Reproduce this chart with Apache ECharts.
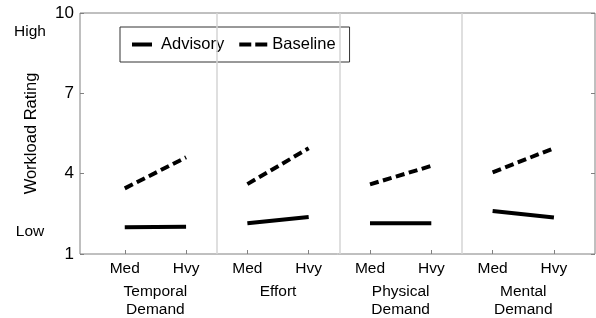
<!DOCTYPE html>
<html>
<head>
<meta charset="utf-8">
<script src="https://cdn.jsdelivr.net/npm/echarts@6/dist/echarts.min.js"></script>
<style>
  html, body { margin: 0; padding: 0; background: #fff; }
  #chart { width: 596px; height: 318px; }
</style>
</head>
<body>
<div id="chart"></div>
<script>
// data
const levels = ['Med', 'Hvy'];
const categories = ['Temporal\nDemand', 'Effort', 'Physical\nDemand', 'Mental\nDemand'];
const advisory = [2.0, 2.02, 2.15, 2.38, 2.15, 2.15, 2.61, 2.36];
const baseline = [3.45, 4.61, 3.61, 4.95, 3.6, 4.29, 4.05, 4.95];
const yTicks = [1, 4, 7, 10];
const yWords = [[1.82, 'Low'], [9.3, 'High']];

const font = 'Liberation Sans, Arial, sans-serif';

// one segment per category, broken between panels
function segments(vals) {
  const out = [];
  categories.forEach(function (c, i) {
    out.push([2 * i + 1, vals[2 * i]]);
    out.push([2 * i + 2, vals[2 * i + 1]]);
    out.push([2 * i + 2.5, '-']);
  });
  return out;
}

const chart = echarts.init(document.getElementById('chart'));

chart.setOption({
  animation: false,
  textStyle: { fontFamily: font, color: '#000' },
  grid: {
    left: 80, right: 1, top: 13, bottom: 64,
    show: true, borderColor: '#808080', borderWidth: 1
  },
  legend: {
    left: 120, top: 27,
    padding: [9, 14, 9, 12],
    itemGap: 15,
    itemWidth: 28,
    itemHeight: 4,
    symbolKeepAspect: true,
    borderColor: '#333',
    borderWidth: 1,
    backgroundColor: '#fff',
    textStyle: { fontSize: 16.5, color: '#000', fontFamily: font },
    data: [
      { name: 'Advisory', icon: 'path://M0,0h20v4h-20z' },
      { name: 'Baseline', icon: 'path://M0,0h12v4h-12zM16,0h12v4h-12z' }
    ]
  },
  xAxis: [
    {
      type: 'value', min: 0.27, max: 8.67,
      splitLine: { show: false },
      axisLine: { show: false },
      axisTick: { show: true, inside: true, length: 4, customValues: [1, 2, 3, 4, 5, 6, 7, 8], lineStyle: { color: '#808080' } },
      axisLabel: {
        customValues: [1, 2, 3, 4, 5, 6, 7, 8],
        margin: 7, fontSize: 15.5, color: '#000',
        formatter: function (v) { return levels[(Math.round(v) - 1) % 2]; }
      }
    },
    {
      type: 'value', min: 0.27, max: 8.67, position: 'bottom',
      splitLine: { show: false },
      axisLine: { show: false },
      axisTick: { show: false },
      axisLabel: {
        customValues: [1.5, 3.5, 5.5, 7.5],
        margin: 29, fontSize: 15.5, lineHeight: 17.5, color: '#000',
        formatter: function (v) { return categories[Math.round((v - 1.5) / 2)]; }
      }
    }
  ],
  yAxis: [
    {
      type: 'value', min: 1, max: 10,
      name: 'Workload Rating', nameLocation: 'middle', nameGap: 40,
      nameTextStyle: { fontSize: 16.5, color: '#000' },
      splitLine: { show: false },
      axisLine: { show: false },
      axisTick: { show: true, inside: true, length: 4, customValues: yTicks, lineStyle: { color: '#808080' } },
      axisLabel: { customValues: yTicks, fontSize: 17, margin: 6, color: '#000' }
    },
    {
      type: 'value', min: 1, max: 10, position: 'right',
      splitLine: { show: false },
      axisLine: { show: false },
      axisTick: { show: true, inside: true, length: 4, customValues: yTicks, lineStyle: { color: '#808080' } },
      axisLabel: { show: false }
    },
    {
      type: 'value', min: 1, max: 10, position: 'left', offset: 50,
      splitLine: { show: false },
      axisLine: { show: false },
      axisTick: { show: false },
      axisLabel: {
        customValues: yWords.map(function (w) { return w[0]; }),
        align: 'center', margin: 0, fontSize: 15.5, color: '#000',
        formatter: function (v) {
          const w = yWords.find(function (d) { return Math.abs(d[0] - v) < 1e-6; });
          return w ? w[1] : '';
        }
      }
    }
  ],
  series: [
    {
      name: 'Advisory', type: 'line',
      data: segments(advisory),
      symbol: 'none', connectNulls: false,
      lineStyle: { color: '#000', width: 4 },
      itemStyle: { color: '#000' },
      markLine: {
        silent: true, symbol: 'none', label: { show: false },
        lineStyle: { color: '#d4d4d4', width: 1.5, type: 'solid' },
        data: [{ xAxis: 2.5 }, { xAxis: 4.5 }, { xAxis: 6.5 }]
      },
      z: 3
    },
    {
      name: 'Baseline', type: 'line',
      data: segments(baseline),
      symbol: 'none', connectNulls: false,
      lineStyle: { color: '#000', width: 4, type: [9, 4.5] },
      itemStyle: { color: '#000' },
      z: 3
    }
  ]
});
</script>
</body>
</html>
